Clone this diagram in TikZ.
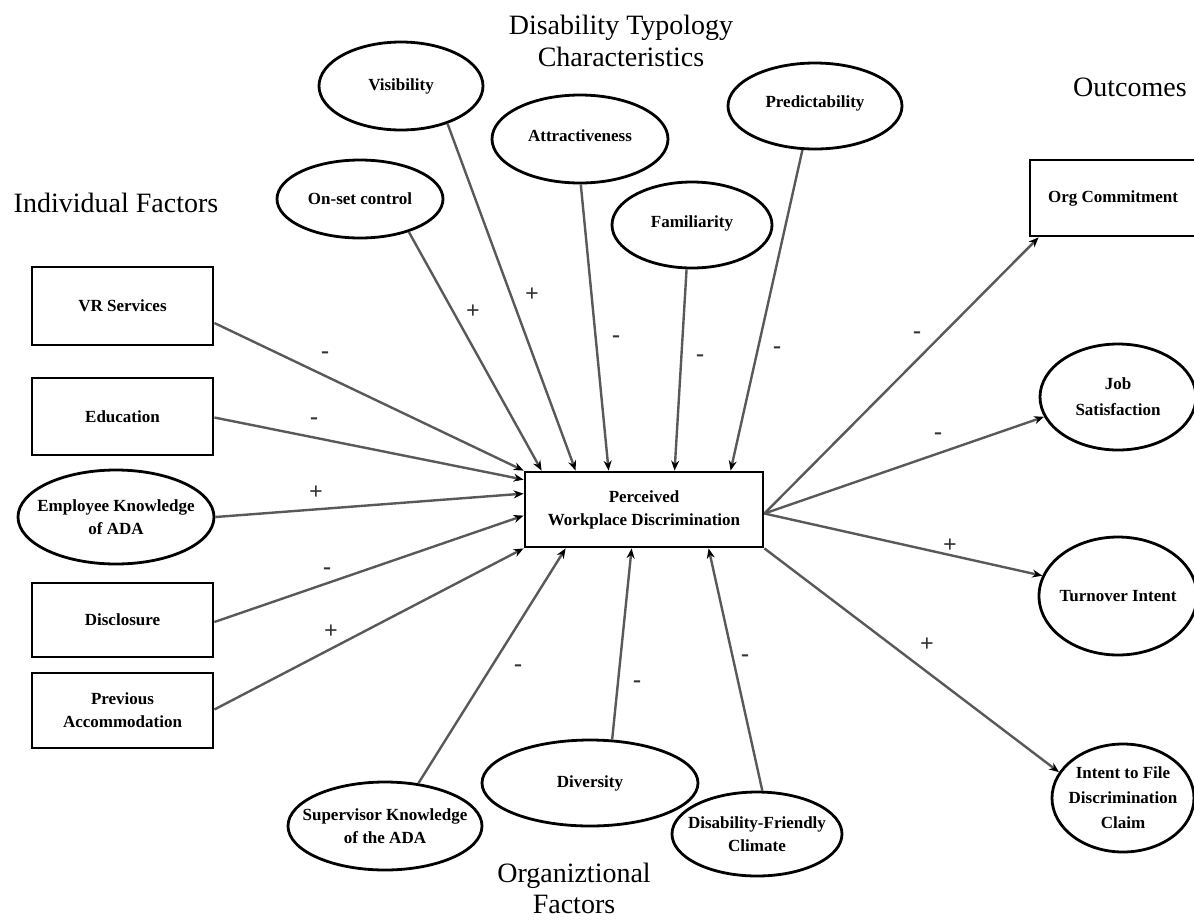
\documentclass[tikz,border=0pt]{standalone}
\usepackage{fontspec}
\setmainfont{Liberation Serif}
\usetikzlibrary{shapes.geometric,arrows.meta,calc}
\begin{document}
\begin{tikzpicture}[x=1pt,y=-1pt,
  box/.style={draw=black,line width=2.8pt,rectangle,inner sep=0pt,align=center,font=\fontsize{17}{23}\selectfont\bfseries},
  oval/.style={draw=black,line width=2.8pt,ellipse,inner sep=-30pt,align=center,font=\fontsize{17}{23}\selectfont\bfseries},
  hdr/.style={align=center,font=\fontsize{28}{32}\selectfont},
  conn/.style={draw=black!65,line width=2.4pt,-{Stealth[length=10pt,width=8pt,color=black]}},
  sgn/.style={font=\fontsize{24}{24}\selectfont\bfseries,text=black!80,inner sep=0pt}
]
\useasboundingbox (0,0) rectangle (1194,922);
\clip (0,0) rectangle (1194,922);

% headers
\node[hdr] (hdis) at (621,41) {Disability Typology\\Characteristics};
\node[hdr] (hout) at (1130,87) {Outcomes};
\node[hdr] (hind) at (116,203) {Individual Factors};
\node[hdr,font=\fontsize{28}{31}\selectfont] (horg) at (574,888) {Organiztional\\Factors};

% centre
\node[box,minimum width=238pt,minimum height=75pt] (pwd) at (644,509.5) {Perceived\\Workplace Discrimination};

% individual factors
\node[box,minimum width=181pt,minimum height=78pt] (vr) at (122.5,306) {VR Services};
\node[box,minimum width=181pt,minimum height=77pt] (edu) at (122.5,416.5) {Education};
\node[oval,minimum width=196pt,minimum height=94pt] (emp) at (116,517) {Employee Knowledge\\of ADA};
\node[box,minimum width=181pt,minimum height=74pt] (dis) at (122.5,620) {Disclosure};
\node[box,minimum width=181pt,minimum height=75pt] (prev) at (122.5,710.5) {Previous\\Accommodation};

% typology
\node[oval,minimum width=166pt,minimum height=78pt] (onset) at (360,199) {On-set control};
\node[oval,minimum width=164pt,minimum height=88pt] (vis) at (401,86) {Visibility};
\node[oval,minimum width=176pt,minimum height=88pt] (attr) at (580,139) {\raisebox{7pt}{Attractiveness}};
\node[oval,minimum width=160pt,minimum height=86pt] (fam) at (692,225) {\raisebox{7pt}{Familiarity}};
\node[oval,minimum width=174pt,minimum height=86pt] (pred) at (815,106) {\raisebox{9pt}{Predictability}};

% organizational
\node[oval,minimum width=194pt,minimum height=88pt] (sup) at (385,826) {Supervisor Knowledge\\of the ADA};
\node[oval,minimum width=216pt,minimum height=86pt] (div) at (590,783) {Diversity};
\node[oval,minimum width=170pt,minimum height=84pt] (clim) at (757,834) {Disability-Friendly\\Climate};

% outcomes
\node[box,minimum width=170pt,minimum height=76pt] (org) at (1115,198) {\hspace*{-4pt}Org Commitment};
\node[oval,minimum width=156pt,minimum height=106pt,font=\fontsize{17}{26}\selectfont\bfseries] (job) at (1118,397) {Job\\Satisfaction};
\node[oval,minimum width=158pt,minimum height=118pt] (turn) at (1118,596) {Turnover Intent};
\node[oval,minimum width=142pt,minimum height=108pt,font=\fontsize{17}{25}\selectfont\bfseries] (intent) at (1123,798) {Intent to File\\Discrimination\\Claim};

% connectors: typology
\draw[conn] (onset.-34) -- ($(pwd.north west)+(18,0)$);
\draw[conn] (vis.-39) -- ($(pwd.north west)+(52,0)$);
\draw[conn] (attr.-89) -- ($(pwd.north west)+(85,0)$);
\draw[conn] (fam.-97) -- ($(pwd.north west)+(151,0)$);
\draw[conn] (pred.-106) -- ($(pwd.north west)+(207,0)$);
% individual
\draw[conn] ($(vr.east)+(0,17)$) -- (pwd.north west);
\draw[conn] ($(edu.east)+(0,1)$) -- ($(pwd.north west)+(0,9)$);
\draw[conn] (emp.east) -- ($(pwd.north west)+(0,23)$);
\draw[conn] ($(dis.east)+(0,2)$) -- ($(pwd.north west)+(0,45)$);
\draw[conn] ($(prev.east)+(0,-1)$) -- (pwd.south west);
% organizational
\draw[conn] (sup.52) -- ($(pwd.south west)+(42,0)$);
\draw[conn] (div.63) -- ($(pwd.south west)+(108,0)$);
\draw[conn] (clim.83) -- ($(pwd.south west)+(185,0)$);
% outcomes
\draw[conn] ($(pwd.east)+(0,4)$) -- ($(org.south west)+(10,0)$);
\draw[conn] ($(pwd.east)+(0,4)$) -- (job.195);
\draw[conn] ($(pwd.east)+(0,4)$) -- (turn.165);
\draw[conn] (pwd.south east) -- (intent.158);

% signs
\node[sgn] (s1) at (473,312) {+};
\node[sgn] (s2) at (532,295) {+};
\node[sgn] (s3) at (616,339) {-};
\node[sgn] (s4) at (700,358) {-};
\node[sgn] (s5) at (777,350) {-};
\node[sgn] (s6) at (325,355) {-};
\node[sgn] (s7) at (314,421) {-};
\node[sgn] (s8) at (316,493) {+};
\node[sgn] (s9) at (327,571) {-};
\node[sgn] (s10) at (331,632) {+};
\node[sgn] (s11) at (518,668) {-};
\node[sgn] (s12) at (637,684) {-};
\node[sgn] (s13) at (745,658) {-};
\node[sgn] (s14) at (917,335) {-};
\node[sgn] (s15) at (938,436) {-};
\node[sgn] (s16) at (950,546) {+};
\node[sgn] (s17) at (927,645) {+};
\end{tikzpicture}
\end{document}
